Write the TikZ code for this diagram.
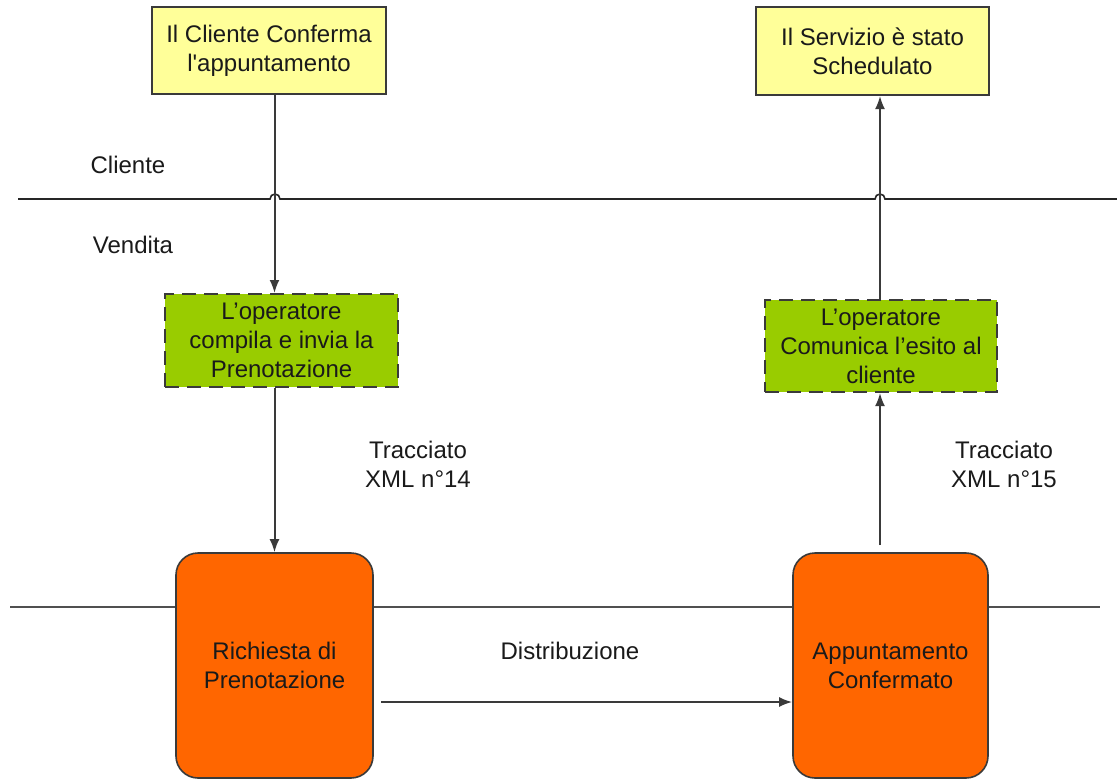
\documentclass[tikz,border=0pt]{standalone}
\usepackage{fontspec}
\newfontfamily\arialf{Liberation Sans}
\usetikzlibrary{arrows.meta}
\definecolor{yel}{HTML}{FFFF99}
\definecolor{grn}{HTML}{99CC00}
\definecolor{org}{HTML}{FF6600}
\definecolor{bord}{HTML}{3A3A3A}
\definecolor{txt}{HTML}{1A1A1A}
\definecolor{lanegray}{HTML}{505050}
\tikzset{
  lbl/.style={font=\arialf\fontsize{24}{29}\selectfont, text=txt, inner sep=0pt},
  yelbox/.style={lbl, draw=bord, fill=yel, line width=2pt, align=center},
  grnbox/.style={lbl, draw=bord, fill=grn, line width=2pt, align=center, dash pattern=on 14pt off 8pt},
  orgbox/.style={lbl, draw=bord, fill=org, line width=1.6pt, align=center, rounded corners=22pt},
  lane/.style={draw=black!85, line width=1.6pt},
  conn/.style={draw=bord, line width=2pt},
  arr/.style={conn, -{Latex[length=13pt,width=10pt]}},
}
\begin{document}
\begin{tikzpicture}[x=1pt,y=-1pt]
\useasboundingbox[fill=white] (0,0) rectangle (1117,780);

% lanes
\draw[lane] (18,199) -- (270,199) arc[start angle=180,end angle=360,radius=5] -- (875,199) arc[start angle=180,end angle=360,radius=5] -- (1117,199);
\draw[lane, draw=lanegray] (10,607) -- (1100,607);

% nodes
\node[yelbox, minimum width=234pt, minimum height=87pt] (yc1) at (269,50.5) {Il Cliente Conferma\\l'appuntamento};
\node[yelbox, minimum width=233pt, minimum height=88pt] (yc2) at (872.5,51) {Il Servizio è stato\\Schedulato};
\node[grnbox, minimum width=233pt, minimum height=93pt] (g1) at (281.5,340.5) {L’operatore\\compila e invia la\\Prenotazione};
\node[grnbox, minimum width=232pt, minimum height=92pt] (g2) at (881,346) {L’operatore\\Comunica l’esito al\\cliente};
\node[orgbox, minimum width=197pt, minimum height=225pt] (o1) at (274.5,665.5) {Richiesta di\\Prenotazione};
\node[orgbox, minimum width=195pt, minimum height=225pt] (o2) at (890.5,665.5) {Appuntamento\\Confermato};

% labels
\node[lbl] (cl) at (128,165) {Cliente};
\node[lbl] (vd) at (133,245) {Vendita};
\node[lbl, align=center] (t14) at (418,464) {Tracciato\\XML n°14};
\node[lbl, align=center] (t15) at (1004,464) {Tracciato\\XML n°15};
\node[lbl] (dist) at (570,651) {Distribuzione};

% connectors
\coordinate (d1) at (381,702);
\coordinate (s2) at (880,545);
\draw[arr] (yc1.south -| o1.north) -- (g1.north -| o1.north);
\draw[arr] (g1.south -| o1.north) -- (o1.north);
\draw[arr] (d1) -- (d1 -| o2.west);
\draw[arr] (s2) -- (g2.south -| s2);
\draw[arr] (g2.north -| s2) -- (yc2.south -| s2);
\end{tikzpicture}
\end{document}
